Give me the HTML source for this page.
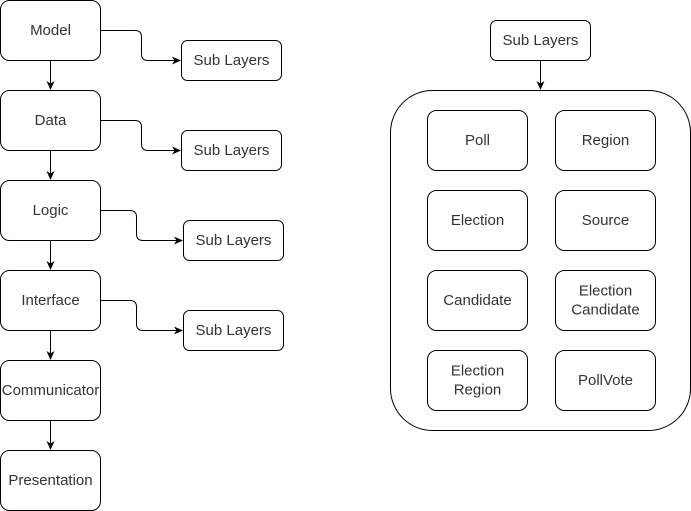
<!DOCTYPE html>
<html><head><meta charset="utf-8"><style>
html,body{margin:0;padding:0;background:#fff;}
svg{display:block;}
text{font-family:"Liberation Sans",Arial,sans-serif;font-size:15px;fill:#333;text-anchor:middle;dominant-baseline:central;}
</style></head><body>
<svg width="691" height="511" viewBox="0 0 691 511" xmlns="http://www.w3.org/2000/svg">
<defs>
<marker id="a" markerWidth="10" markerHeight="10" refX="8" refY="5" orient="auto" markerUnits="userSpaceOnUse">
<path d="M0,1 L9,5 L0,9 L2.5,5 Z" fill="#000"/>
</marker>
</defs>
<g fill="#fff" stroke="#000" stroke-width="1">
<rect x="0.5" y="0.5" width="100" height="60" rx="9"/>
<rect x="0.5" y="90.5" width="100" height="60" rx="9"/>
<rect x="0.5" y="180.5" width="100" height="60" rx="9"/>
<rect x="0.5" y="270.5" width="100" height="60" rx="9"/>
<rect x="0.5" y="360.5" width="100" height="60" rx="9"/>
<rect x="0.5" y="450.5" width="100" height="60" rx="9"/>
<rect x="181.5" y="40.5" width="100" height="40" rx="6"/>
<rect x="181.5" y="130.5" width="100" height="40" rx="6"/>
<rect x="183.5" y="220.5" width="100" height="40" rx="6"/>
<rect x="183.5" y="310.5" width="100" height="40" rx="6"/>
<rect x="490.5" y="20.5" width="100" height="40" rx="6"/>
<rect x="390.5" y="90.5" width="300" height="340" rx="42"/>
<rect x="427.5" y="110.5" width="100" height="60" rx="9"/>
<rect x="555.5" y="110.5" width="100" height="60" rx="9"/>
<rect x="427.5" y="190.5" width="100" height="60" rx="9"/>
<rect x="555.5" y="190.5" width="100" height="60" rx="9"/>
<rect x="427.5" y="270.5" width="100" height="60" rx="9"/>
<rect x="555.5" y="270.5" width="100" height="60" rx="9"/>
<rect x="427.5" y="350.5" width="100" height="60" rx="9"/>
<rect x="555.5" y="350.5" width="100" height="60" rx="9"/>
</g>
<g fill="none" stroke="#000" stroke-width="1" marker-end="url(#a)">
<path d="M50.5,61 V89"/>
<path d="M50.5,151 V179"/>
<path d="M50.5,241 V269"/>
<path d="M50.5,331 V359"/>
<path d="M50.5,421 V449"/>
<path d="M540.5,61 V89"/>
<path d="M101,30.5 H135 Q141.5,30.5 141.5,37 V54 Q141.5,60.5 148,60.5 H180"/>
<path d="M101,120.5 H135 Q141.5,120.5 141.5,127 V144 Q141.5,150.5 148,150.5 H180"/>
<path d="M101,210.5 H130 Q136.5,210.5 136.5,217 V234 Q136.5,240.5 143,240.5 H182"/>
<path d="M101,300.5 H130 Q136.5,300.5 136.5,307 V324 Q136.5,330.5 143,330.5 H182"/>
</g>
<text x="50.5" y="30.5">Model</text>
<text x="50.5" y="120.5">Data</text>
<text x="50.5" y="210.5">Logic</text>
<text x="50.5" y="300.5">Interface</text>
<text x="50.5" y="390.5">Communicator</text>
<text x="50.5" y="480.5">Presentation</text>
<text x="231.5" y="60.5">Sub Layers</text>
<text x="231.5" y="150.5">Sub Layers</text>
<text x="233.5" y="240.5">Sub Layers</text>
<text x="233.5" y="330.5">Sub Layers</text>
<text x="540.5" y="40.5">Sub Layers</text>
<text x="477.5" y="140.5">Poll</text>
<text x="605.5" y="140.5">Region</text>
<text x="477.5" y="220.5">Election</text>
<text x="605.5" y="220.5">Source</text>
<text x="477.5" y="300.5">Candidate</text>
<text x="605.5" y="291">Election</text>
<text x="605.5" y="310">Candidate</text>
<text x="477.5" y="371">Election</text>
<text x="477.5" y="390">Region</text>
<text x="605.5" y="380.5">PollVote</text>
</svg>
</body></html>
